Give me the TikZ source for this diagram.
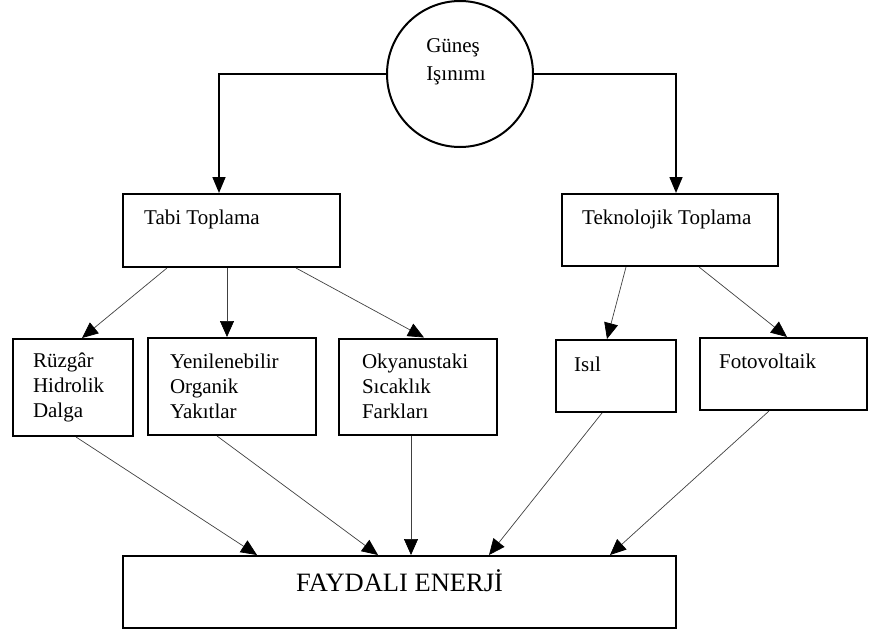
\documentclass[tikz,border=0pt]{standalone}
\usepackage{fontspec}
\setmainfont{Liberation Serif}
\usetikzlibrary{arrows.meta}
\tikzstyle{box}=[draw, line width=2pt, inner sep=0pt]
\tikzstyle{multi}=[box, align=left, inner xsep=0pt]
\tikzstyle{txt}=[inner sep=0pt, anchor=base west]
\tikzstyle{trunk}=[line width=1.6pt, -{Triangle[length=16pt,width=13pt]}]
\tikzstyle{feed}=[line width=0.7pt, black!75, -{Triangle[length=16pt,width=14pt,color=black]}]

\begin{document}
\begin{tikzpicture}[x=1pt,y=-1pt,font=\fontsize{21}{25}\selectfont]
    \useasboundingbox (0,0) rectangle (869,632);
    % source
    \node [circle, draw, line width=2pt, minimum size=146pt] (sun) at (460,74) {};
    \node [align=left, inner sep=0pt, font=\fontsize{21}{28}\selectfont] (sun-t) at (456,62) {Güneş\\Işınımı};
    % collection
    \node [box, minimum width=217pt, minimum height=73pt] (tabi) at (231.5,230.5) {};
    \node [txt] (tabi-t) at ([shift={(22pt,-31pt)}]tabi.north west) {Tabi Toplama};
    \node [box, minimum width=216pt, minimum height=72pt] (tekno) at (670,230) {};
    \node [txt] (tekno-t) at ([shift={(21pt,-31pt)}]tekno.north west) {Teknolojik Toplama};
    % sources of energy
    \node [multi, text width=80pt, minimum width=120pt, minimum height=97pt] (ruzgar) at (73,387.5) {Rüzgâr\\Hidrolik\\Dalga};
    \node [multi, text width=124pt, minimum width=168pt, minimum height=97pt] (yenile) at (232,386.5) {Yenilenebilir\\Organik\\Yakıtlar};
    \node [multi, text width=112pt, minimum width=158pt, minimum height=96pt] (okyanus) at (418,386.5) {Okyanustaki\\Sıcaklık\\Farkları};
    \node [box, minimum width=120pt, minimum height=72pt] (isil) at (616,376) {};
    \node [txt] (isil-t) at ([shift={(19pt,-32pt)}]isil.north west) {Isıl};
    \node [box, minimum width=167pt, minimum height=72pt] (foto) at (783.5,374) {};
    \node [txt] (foto-t) at ([shift={(20pt,-31pt)}]foto.north west) {Fotovoltaik};
    % result
    \node [box, minimum width=553pt, minimum height=72pt] (enerji) at (399.5,592) {};
    \node [inner sep=0pt, anchor=base, font=\fontsize{26.5}{30}\selectfont] (enerji-t) at ([yshift=-36pt]enerji.north) {FAYDALI ENERJİ};

    \draw[trunk] (sun.west) -| ([xshift=-12.5pt]tabi.north);
    \draw[trunk] (sun.east) -| ([xshift=6pt]tekno.north);

    \draw[feed] ([xshift=45pt]tabi.south west) -- ([xshift=70pt]ruzgar.north west);
    \draw[feed] ([xshift=105pt]tabi.south west) -- ([xshift=80pt]yenile.north west);
    \draw[feed] ([xshift=174pt]tabi.south west) -- ([xshift=86pt]okyanus.north west);
    \draw[feed] ([xshift=65pt]tekno.south west) -- ([xshift=52pt]isil.north west);
    \draw[feed] ([xshift=138pt]tekno.south west) -- ([xshift=88pt]foto.north west);

    \draw[feed] ([xshift=64pt]ruzgar.south west) -- ([xshift=135pt]enerji.north west);
    \draw[feed] ([xshift=70pt]yenile.south west) -- ([xshift=256pt]enerji.north west);
    \draw[feed] ([xshift=73pt]okyanus.south west) -- ([xshift=289pt]enerji.north west);
    \draw[feed] ([xshift=47pt]isil.south west) -- ([xshift=367pt]enerji.north west);
    \draw[feed] ([xshift=70pt]foto.south west) -- ([xshift=488pt]enerji.north west);
\end{tikzpicture}
\end{document}
